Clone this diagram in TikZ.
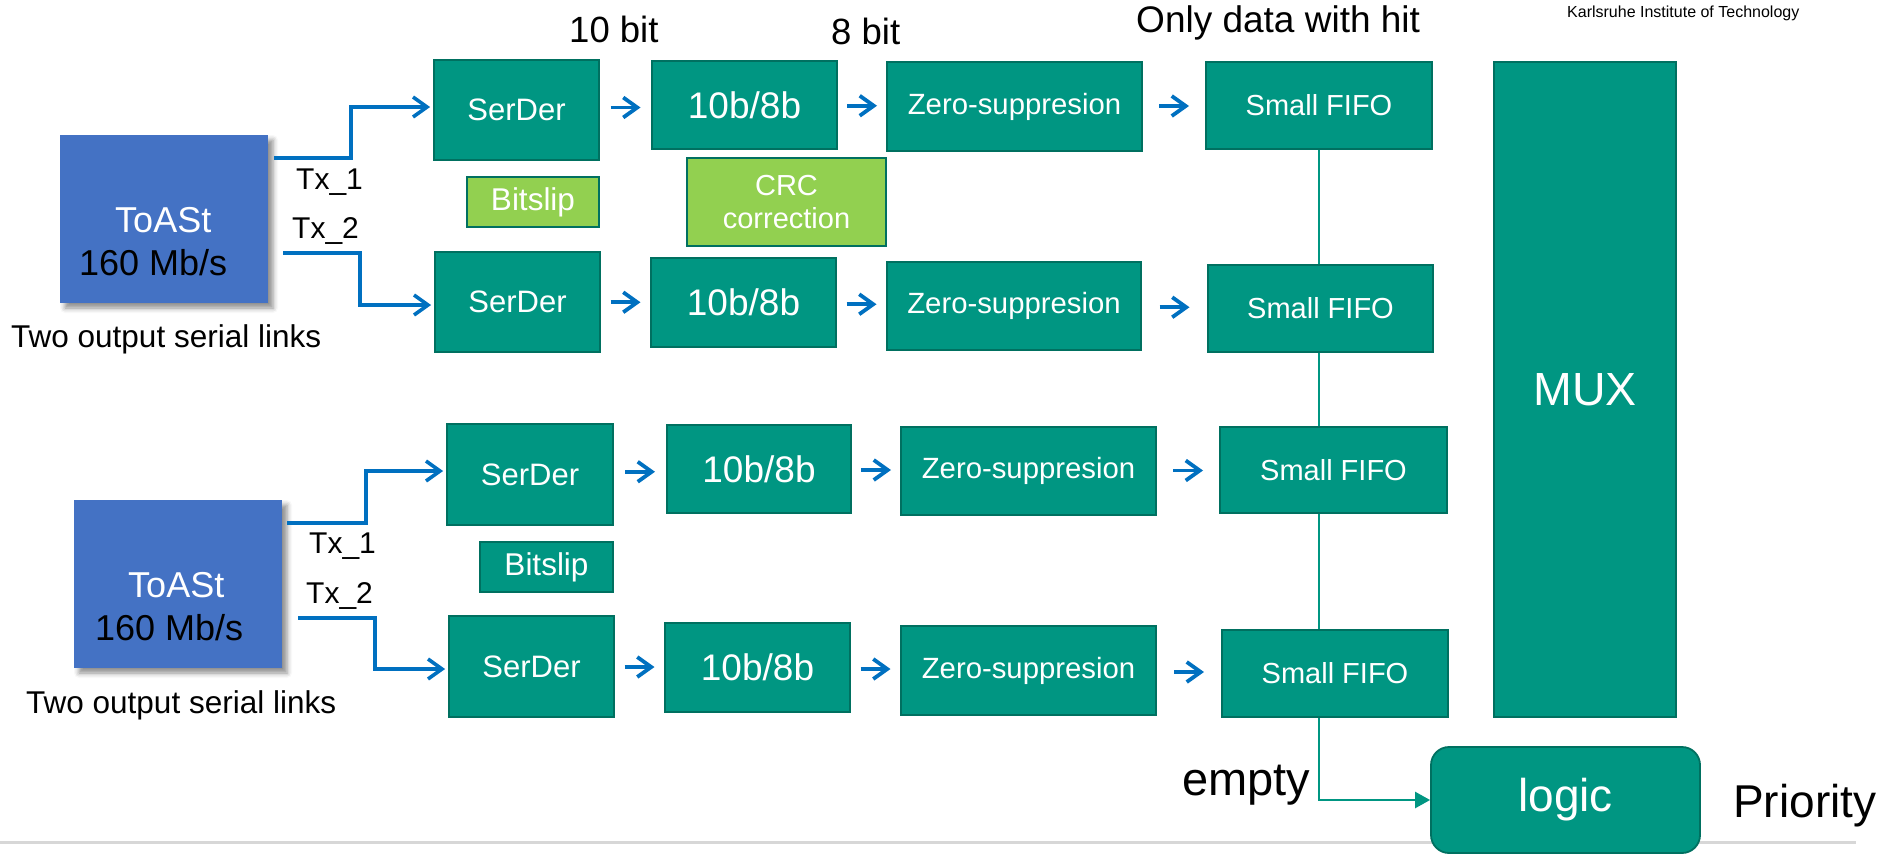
\documentclass[tikz,border=0pt]{standalone}
\usepackage{fontspec}
\setmainfont{Liberation Sans}
\usetikzlibrary{arrows.meta,calc,backgrounds,shadows.blur}

\definecolor{kitgreen}{RGB}{0,150,130}
\definecolor{kitedge}{RGB}{0,112,96}
\definecolor{limegreen}{RGB}{146,208,80}
\definecolor{toastblue}{RGB}{68,114,196}
\definecolor{flowblue}{RGB}{0,112,192}
\definecolor{footgray}{RGB}{215,215,215}

\newcommand\sz[2]{\fontsize{#1}{#2}\selectfont}

% short blue arrow centred in the gap between two neighbouring stages
\newcommand\stepflow[2]{%
  \path ($(#1.east)!0.5!(#2.west)$) coordinate (m-#1);
  \draw[flow] ($(m-#1)+(-15,0)$) -- ($(m-#1)+(15,0)$);}

\tikzset{
  stage/.style={draw=kitedge, line width=1.8pt, fill=kitgreen, text=white,
                inner sep=0pt, align=center},
  helper/.style={draw=kitedge, line width=1.8pt, fill=limegreen, text=white,
                inner sep=0pt, align=center},
  chip/.style={fill=toastblue, inner sep=0pt,
               blur shadow={shadow xshift=5pt, shadow yshift=-5pt,
                            shadow blur radius=5pt, shadow opacity=45}},
  txt/.style={inner sep=0pt, anchor=base west},
  wire/.style={draw=flowblue, line width=3.6pt, shorten >=3pt,
               -{Straight Barb[length=14pt,width=20pt]}},
  flow/.style={draw=flowblue, line width=3.8pt,
               -{Straight Barb[length=14pt,width=20pt]}},
  emptyline/.style={draw=kitgreen, line width=2.5pt,
               -{Triangle[length=15pt,width=16pt]}},
}

\begin{document}
\begin{tikzpicture}[x=1pt,y=-1pt]
\useasboundingbox (0,0) rectangle (1878,855);

% headings
\node[txt, font=\sz{36.5}{42}] (h10) at (569,42) {10 bit};
\node[txt, font=\sz{36.5}{42}] (h8) at (831,44) {8 bit};
\node[txt, font=\sz{37}{42}] (hhit) at (1136,32) {Only data with hit};
\node[txt, font=\sz{16}{19}] (kit) at (1567,17) {Karlsruhe Institute of Technology};

% ---------- first ToASt ----------
\node[chip, minimum width=208pt, minimum height=168pt] (toast1) at (164,219) {};
\node[txt, text=white, font=\sz{36}{42}] (tname1) at (115,232) {ToASt};
\node[txt, font=\sz{36}{42}] (trate1) at (79,275) {160 Mb/s};
\node[txt, font=\sz{31.5}{36}] (links1) at (11,347) {Two output serial links};
\node[txt, font=\sz{30}{36}] (txa1) at (296,189) {Tx\_1};
\node[txt, font=\sz{30}{36}] (txb1) at (292,238) {Tx\_2};

% row 1
\node[stage, minimum width=165pt, minimum height=100pt, font=\sz{31}{36}] (ser1) at (516.5,110) {SerDer};
\node[stage, minimum width=185pt, minimum height=88pt, font=\sz{37}{42}] (dec1) at (744.5,105) {10b/8b};
\node[stage, minimum width=255pt, minimum height=89pt, font=\sz{29.3}{34}] (zs1) at (1014.5,106.5) {Zero-suppresion};
\node[stage, minimum width=226pt, minimum height=87pt, font=\sz{29}{34}] (fifo1) at (1319,105.5) {Small FIFO};

\node[helper, minimum width=132pt, minimum height=50pt, font=\sz{31.5}{36}] (bits1) at (533,202) {Bitslip};
\node[helper, minimum width=199pt, minimum height=88pt, font=\sz{29}{33}] (crc) at (786.5,202) {CRC\\correction};

% row 2
\node[stage, minimum width=165pt, minimum height=100pt, font=\sz{31}{36}] (ser2) at (517.5,302) {SerDer};
\node[stage, minimum width=185pt, minimum height=89pt, font=\sz{37}{42}] (dec2) at (743.5,302.5) {10b/8b};
\node[stage, minimum width=254pt, minimum height=88pt, font=\sz{29.3}{34}] (zs2) at (1014,306) {Zero-suppresion};
\node[stage, minimum width=225pt, minimum height=87pt, font=\sz{29}{34}] (fifo2) at (1320.5,308.5) {Small FIFO};

% ---------- second ToASt ----------
\node[chip, minimum width=208pt, minimum height=168pt] (toast2) at (178,584) {};
\node[txt, text=white, font=\sz{36}{42}] (tname2) at (128,597) {ToASt};
\node[txt, font=\sz{36}{42}] (trate2) at (95,640) {160 Mb/s};
\node[txt, font=\sz{31.5}{36}] (links2) at (26,713) {Two output serial links};
\node[txt, font=\sz{30}{36}] (txa2) at (309,553) {Tx\_1};
\node[txt, font=\sz{30}{36}] (txb2) at (306,603) {Tx\_2};

% row 3
\node[stage, minimum width=166pt, minimum height=101pt, font=\sz{31}{36}] (ser3) at (530,474.5) {SerDer};
\node[stage, minimum width=184pt, minimum height=88pt, font=\sz{37}{42}] (dec3) at (759,469) {10b/8b};
\node[stage, minimum width=255pt, minimum height=88pt, font=\sz{29.3}{34}] (zs3) at (1028.5,471) {Zero-suppresion};
\node[stage, minimum width=227pt, minimum height=86pt, font=\sz{29}{34}] (fifo3) at (1333.5,470) {Small FIFO};

\node[stage, minimum width=133pt, minimum height=50pt, font=\sz{31.5}{36}] (bits3) at (546.5,567) {Bitslip};

% row 4
\node[stage, minimum width=165pt, minimum height=101pt, font=\sz{31}{36}] (ser4) at (531.5,666.5) {SerDer};
\node[stage, minimum width=185pt, minimum height=89pt, font=\sz{37}{42}] (dec4) at (757.5,667.5) {10b/8b};
\node[stage, minimum width=255pt, minimum height=89pt, font=\sz{29.3}{34}] (zs4) at (1028.5,670.5) {Zero-suppresion};
\node[stage, minimum width=226pt, minimum height=87pt, font=\sz{29}{34}] (fifo4) at (1335,673.5) {Small FIFO};

% multiplexer and priority logic
\node[stage, minimum width=182pt, minimum height=655pt, font=\sz{46.5}{52}] (mux) at (1585,389.5) {MUX};
\node[stage, rounded corners=18pt, minimum width=269pt, minimum height=106pt, font=\sz{46}{52}] (logic) at (1565.5,800) {logic};
\node[txt, font=\sz{47}{54}] (empty) at (1182,795) {empty};
\node[txt, font=\sz{46}{54}] (prio) at (1733,817) {Priority};

% serial links from the ToASt chips
\coordinate (w1a) at (274,158); \coordinate (w1b) at (351,107);
\draw[wire] (w1a) -| (w1b) -- (w1b -| ser1.west);
\coordinate (w2a) at (283,253); \coordinate (w2b) at (360,305);
\draw[wire] (w2a) -| (w2b) -- (w2b -| ser2.west);
\coordinate (w3a) at (287,523); \coordinate (w3b) at (366,471);
\draw[wire] (w3a) -| (w3b) -- (w3b -| ser3.west);
\coordinate (w4a) at (298,618); \coordinate (w4b) at (375,669);
\draw[wire] (w4a) -| (w4b) -- (w4b -| ser4.west);

% data path arrows
\stepflow{ser1}{dec1}\stepflow{dec1}{zs1}\stepflow{zs1}{fifo1}
\stepflow{ser2}{dec2}\stepflow{dec2}{zs2}\stepflow{zs2}{fifo2}
\stepflow{ser3}{dec3}\stepflow{dec3}{zs3}\stepflow{zs3}{fifo3}
\stepflow{ser4}{dec4}\stepflow{dec4}{zs4}\stepflow{zs4}{fifo4}

\begin{pgfonlayer}{background}
  % footer rule
  \coordinate (footl) at (0,842); \coordinate (footr) at (1856,842);
  \draw[footgray, line width=3pt] (footl) -- (footr);
  % FIFO empty flags to the priority logic
  \draw[emptyline] (fifo1.south) |- (logic.west);
\end{pgfonlayer}
\end{tikzpicture}
\end{document}
